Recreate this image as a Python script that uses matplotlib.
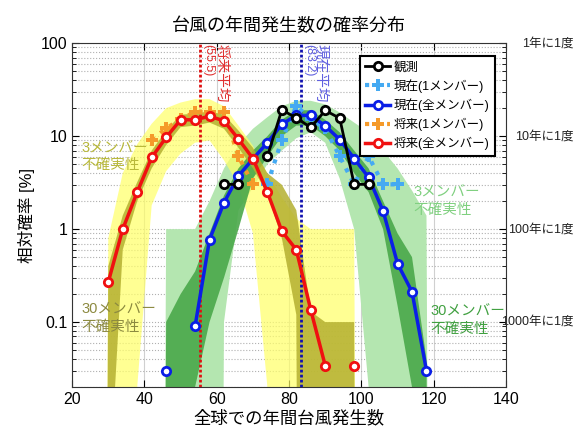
import numpy as np
import matplotlib
matplotlib.use("Agg")
import matplotlib.pyplot as plt
import matplotlib.transforms as mtransforms

plt.rcParams["font.family"] = ["Liberation Sans", "Noto Sans CJK JP", "DejaVu Sans"]

# --------------------------------------------
# data (bin centres, relative probability in %)
# --------------------------------------------
nan = np.nan

bins = [26, 30, 34, 38, 42, 46, 50, 54, 58, 62, 66, 70, 74,
        78, 82, 86, 90, 94, 98, 102, 106, 110, 114, 118, 122]

# future, 3-member uncertainty (yellow)
fut3_hi = [0, 0.8, 4.0, 8.2, 13.6, 20, 23, 25, 25, 21, 13, 7.9, 3.9,
           2.2, 1.3, 1.0, 1.0, 1.0, 1.0, 0, 0, 0, 0, 0, 0]
fut3_lo = [0, 0, 0, 0.02, 1.8, 4.2, 6.5, 8.5, 9, 5.5, 3.0, 0.9, 0.02,
           0, 0, 0, 0, 0, 0, 0, 0, 0, 0, 0, 0]
# future, 30-member uncertainty (olive)
fut30_hi = [0, 0.4, 1.4, 3.2, 7, 11.5, 17, 17.5, 18.5, 17, 11.5, 7.5, 4,
            3.0, 1.6, 0.13, 0.1, 0.1, 0.1, 0, 0, 0, 0, 0, 0]
fut30_lo = [0, 0.001, 0.6, 2.0, 4.5, 8, 12.5, 13, 14, 12, 7.5, 4.5, 2.4,
            0.8, 0.12, 0, 0, 0, 0, 0, 0, 0, 0, 0, 0]
# present, 3-member uncertainty (light green)
cur3_hi = [0, 0, 0, 0, 0, 1.0, 1.0, 1.0, 2.0, 4.5, 8, 12, 16,
           21, 24, 24, 22, 18, 14, 11, 7, 4.5, 2.6, 1.4, 0]
cur3_lo = [0, 0, 0, 0, 0, 0, 0, 0, 0, 0.1, 1.6, 2.8, 5,
           7, 9.5, 11, 8.5, 3.5, 1.0, 0.02, 0, 0, 0, 0, 0]
# present, 30-member uncertainty (dark green)
cur30_hi = [0, 0, 0, 0, 0, 0.1, 0.2, 0.35, 0.9, 2.3, 4.5, 7, 10,
            15, 19, 19, 15, 11, 7, 4.5, 2.0, 0.9, 0.5, 0.04, 0]
cur30_lo = [0, 0, 0, 0, 0, 0, 0, 0.02, 0.1, 0.3, 1.0, 3.5, 6,
            10, 13, 13, 10, 7, 4, 2.5, 1.0, 0.15, 0.02, 0, 0]

obs_x = [62, 66, 70, 74, 78, 82, 86, 90, 94, 98, 102]
obs_y = [3.03, 3.03, nan, 6.06, 19.2, 15.7, 12.4, 18.9, 15.6, 3.03, 3.03]

cur1_x = [74, 78, 82, 86, 90, 94, 98, 102, 106, 110]
cur1_y = [3.03, 9.1, 21.2, 15.2, 12.1, 6.06, 3.03, 6.06, 3.03, 3.03]

cur_x = [46, 50, 54, 58, 62, 66, 70, 74, 78, 82, 86, 90, 94, 98,
         102, 106, 110, 114, 118]
cur_y = [0.03, nan, 0.09, 0.77, 1.93, 3.74, 5.7, 8.5, 13.4, 16.8, 16.7,
         12.9, 9.2, 5.75, 3.6, 1.57, 0.425, 0.212, 0.03]

fut1_x = [42, 46, 50, 54, 58, 62, 66, 70]
fut1_y = [9.1, 12.1, 15.2, 18.2, 18.2, 18.2, 6.06, 3.03]

fut_x = [30, 34, 38, 42, 46, 50, 54, 58, 62, 66, 70, 74, 78, 82, 86,
         90, 94, 98]
fut_y = [0.27, 1.0, 2.5, 5.9, 9.7, 15.0, 15.0, 16.4, 14.6, 9.3, 5.75,
         2.5, 0.95, 0.6, 0.135, 0.034, nan, 0.034]

fut_mean = 55.5
cur_mean = 83.2

return_levels = [100, 10, 1, 0.1]
return_labels = ["1年に1度", "10年に1度", "100年に1度", "1000年に1度"]


def band(v):
    # zeros go far below the axis so band edges drop straight down
    v = np.asarray(v, dtype=float)
    return np.where(v > 0, v, 1e-30)


# --------------------------------------------
# figure
# --------------------------------------------
fig = plt.figure(figsize=(5.77, 4.32), dpi=100)
ax = fig.add_axes([0.125, 0.104, 0.752, 0.796])
ax.set_yscale("log")

ax.fill_between(bins, band(cur3_lo), band(cur3_hi), color="#b4e6b0",
                lw=0, zorder=1)
ax.fill_between(bins, band(fut3_lo), band(fut3_hi), color="#ffff66",
                alpha=0.7, lw=0, zorder=2)
ax.fill_between(bins, band(cur30_lo), band(cur30_hi), color="#4aa84a",
                alpha=0.9, lw=0, zorder=3)
ax.fill_between(bins, band(fut30_lo), band(fut30_hi), color="#b4b030",
                alpha=0.85, lw=0, zorder=4)

ax.axvline(fut_mean, color="#e01010", ls=(0, (1, 0.8)), lw=2, zorder=5)
ax.axvline(cur_mean, color="#1010b0", ls=(0, (1, 0.8)), lw=2, zorder=5)

ax.plot(obs_x, obs_y, color="black", lw=2, marker="o", ms=6,
        mfc="white", mec="black", mew=2, zorder=8, label="観測")
ax.plot(cur1_x, cur1_y, color="#45aaf2", lw=3, ls=":", marker="P",
        ms=8, mew=0, zorder=6, label="現在(1メンバー)")
ax.plot(cur_x, cur_y, color="#0a1ee6", lw=2.5, marker="o", ms=6,
        mfc="white", mec="#0a1ee6", mew=2, zorder=7, label="現在(全メンバー)")
ax.plot(fut1_x, fut1_y, color="#f59a2a", lw=3, ls=":", marker="P",
        ms=8, mew=0, zorder=6, label="将来(1メンバー)")
ax.plot(fut_x, fut_y, color="#f01010", lw=2.5, marker="o", ms=6,
        mfc="white", mec="#f01010", mew=2, zorder=7, label="将来(全メンバー)")

# mean labels
ax.text(fut_mean + 0.6, 98, "(55.5)", rotation=270, color="#e03030",
        fontsize=9, ha="left", va="top", zorder=9)
ax.text(fut_mean + 3.8, 98, "将来平均", rotation=270, color="#e03030",
        fontsize=10.5, ha="left", va="top", zorder=9)
ax.text(cur_mean + 0.6, 98, "(83.2)", rotation=270, color="#6060e0",
        fontsize=9, ha="left", va="top", zorder=9)
ax.text(cur_mean + 3.6, 98, "現在平均", rotation=270, color="#6060e0",
        fontsize=10.5, ha="left", va="top", zorder=9)

# uncertainty annotations
ax.text(22.5, 6.0, "3メンバー\n不確実性", color="#b8b83a", fontsize=10.5,
        ha="left", va="center", linespacing=1.3, zorder=9)
ax.text(22.5, 0.11, "30メンバー\n不確実性", color="#8c8a40", fontsize=10.5,
        ha="left", va="center", linespacing=1.3, zorder=9)
ax.text(114.5, 2.0, "3メンバー\n不確実性", color="#80d080", fontsize=10.5,
        ha="left", va="center", linespacing=1.3, zorder=9)
ax.text(119, 0.105, "30メンバー\n不確実性", color="#40a040", fontsize=10.5,
        ha="left", va="center", linespacing=1.3, zorder=9)

# return period labels outside the axes
trans = mtransforms.blended_transform_factory(ax.transAxes, ax.transData)
for lv, lb in zip(return_levels, return_labels):
    ax.text(1.155, lv, lb, transform=trans, ha="right", va="center",
            fontsize=9, color="#222222")

ax.set_xlim(20, 140)
ax.set_ylim(0.02, 100)
ax.set_xticks([20, 40, 60, 80, 100, 120, 140])
ax.set_yticks([0.1, 1, 10, 100])
ax.set_yticklabels(["0.1", "1", "10", "100"])
ax.tick_params(which="both", direction="in", top=True, right=True,
               labelsize=11.5)
ax.tick_params(which="major", length=5)
ax.tick_params(which="minor", length=3)

ax.grid(axis="x", which="major", color="#d0d0d0", lw=0.8)
ax.grid(axis="y", which="both", color="#b0b0b0", ls=":", lw=0.8)
ax.set_axisbelow(True)
for s in ax.spines.values():
    s.set_color("#333333")
    s.set_zorder(10)

ax.set_title("台風の年間発生数の確率分布", fontsize=13, pad=9)
ax.set_xlabel("全球での年間台風発生数", fontsize=12.5, labelpad=2)
ax.set_ylabel("相対確率 [%]", fontsize=12, labelpad=4)

leg = ax.legend(loc="upper right", bbox_to_anchor=(0.99, 0.982),
                fontsize=9, fancybox=False, framealpha=1,
                edgecolor="black", handlelength=2.0, borderpad=0.45,
                labelspacing=0.45, handletextpad=0.3)
leg.get_frame().set_linewidth(1.5)
leg.set_zorder(20)

fig.savefig("out.png", dpi=100)
